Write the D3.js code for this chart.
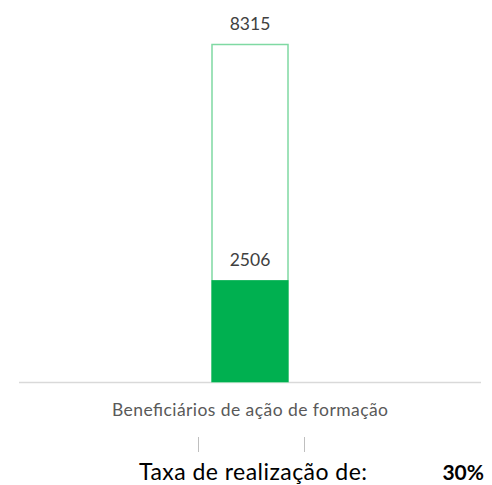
<!DOCTYPE html>
<html><head><meta charset="utf-8">
<script src="https://cdn.jsdelivr.net/npm/d3@7"></script>
<style>body{margin:0;background:#fff}svg{display:block}text{font-family:Lato,"Open Sans",sans-serif}</style>
</head><body>
<svg id="c" width="492" height="485"></svg>
<script>
const categories = ["Beneficiários de ação de formação"];
const planned = [8315];
const realized = [2506];
const rateLabel = "Taxa de realização de:";
const rateValue = ["30%"];

const svg = d3.select("#c");
const x = d3.scaleBand().domain(categories).range([19, 481]).paddingInner(0).paddingOuter(0);
const y = d3.scaleLinear().domain([0, 8315]).range([382, 44]);
const bw = 77;
const cx = c => x(c) + x.bandwidth()/2;

// axis line
svg.append("line").attr("x1",19).attr("x2",481).attr("y1",382.5).attr("y2",382.5)
  .attr("stroke","#d9d9d9").attr("stroke-width",1.5);

// planned outline bar
svg.selectAll("rect.plan").data(categories).enter().append("rect")
  .attr("x", c => cx(c)-bw/2+0.5).attr("width", bw-1)
  .attr("y", (c,i)=>y(planned[i])+0.5).attr("height",(c,i)=>y(0)-y(planned[i])-0.5)
  .attr("fill","#fff").attr("stroke","#7fd9a3").attr("stroke-width",1.5);

// realized filled bar
svg.selectAll("rect.real").data(categories).enter().append("rect")
  .attr("x", c => cx(c)-bw/2).attr("width", bw)
  .attr("y", (c,i)=>y(realized[i])).attr("height",(c,i)=>y(0)-y(realized[i]))
  .attr("fill","#00b050");

// value labels
svg.selectAll("text.pv").data(categories).enter().append("text")
  .attr("x", cx).attr("y",(c,i)=>y(planned[i])-14).attr("text-anchor","middle")
  .attr("font-size",17.5).attr("fill","#404040").text((c,i)=>planned[i]);
svg.selectAll("text.rv").data(categories).enter().append("text")
  .attr("x", cx).attr("y",(c,i)=>y(realized[i])-14).attr("text-anchor","middle")
  .attr("font-size",17.5).attr("fill","#404040").text((c,i)=>realized[i]);

// category label
svg.selectAll("text.cat").data(categories).enter().append("text")
  .attr("x", cx).attr("y",416).attr("text-anchor","middle")
  .attr("font-size",17.5).attr("fill","#595959")
  .attr("textLength",276).attr("lengthAdjust","spacing").text(c=>c);

// small tick marks
[198, 304].forEach(tx=>{
  svg.append("line").attr("x1",tx+0.5).attr("x2",tx+0.5).attr("y1",437).attr("y2",452)
    .attr("stroke","#bfbfbf").attr("stroke-width",1);
});

// rate text
svg.append("text").attr("x",139).attr("y",480).attr("font-size",23).attr("fill","#000")
  .attr("textLength",228).attr("lengthAdjust","spacing").text(rateLabel);
svg.append("text").attr("x",484).attr("y",480).attr("text-anchor","end").attr("font-size",21)
  .attr("font-weight","bold").attr("fill","#000").text(rateValue[0]);
</script>
</body></html>
